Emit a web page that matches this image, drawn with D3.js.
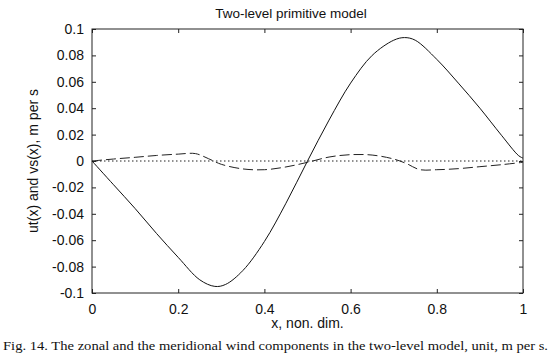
<!DOCTYPE html>
<html>
<head>
<meta charset="utf-8">
<script src="https://cdn.jsdelivr.net/npm/d3@7"></script>
<style>
    body { margin: 0; background: #fff; }
    text { font-family: "Liberation Sans", Arial, sans-serif; fill: #111; }
    .caption { font-family: "Liberation Serif", "Times New Roman", serif; }
</style>
</head>
<body>
<div id="chart"></div>
<script>

//Data
var xSolid = [0, 0.05, 0.10, 0.15, 0.20, 0.25, 0.285, 0.31, 0.35, 0.40, 0.45, 0.50, 0.55, 0.60, 0.65, 0.70, 0.725, 0.75, 0.80, 0.85, 0.90, 0.95, 0.99, 1.0];
var ut = [0, -0.018, -0.036, -0.055, -0.073, -0.090, -0.095, -0.0935, -0.083, -0.061, -0.032, 0.000, 0.031, 0.059, 0.080, 0.0915, 0.0935, 0.0915, 0.077, 0.059, 0.040, 0.0195, 0.004, 0.0022];

var xDashed = [0, 0.05, 0.10, 0.15, 0.20, 0.24, 0.27, 0.30, 0.35, 0.40, 0.45, 0.50, 0.55, 0.60, 0.65, 0.70, 0.73, 0.76, 0.80, 0.85, 0.90, 0.95, 1.0];
var vs = [0, 0.0015, 0.0028, 0.0042, 0.0052, 0.0056, 0.0018, -0.0025, -0.006, -0.0066, -0.0045, -0.001, 0.003, 0.0048, 0.0045, 0.0015, -0.002, -0.0065, -0.0066, -0.0058, -0.0043, -0.0028, -0.001];

var xTicks = [0, 0.2, 0.4, 0.6, 0.8, 1];
var yTicks = [-0.1, -0.08, -0.06, -0.04, -0.02, 0, 0.02, 0.04, 0.06, 0.08, 0.1];

var title = "Two-level primitive model";
var xLabel = "x, non. dim.";
var yLabel = "ut(x) and vs(x), m per s";
var caption = "Fig. 14. The zonal and the meridional wind components in the two-level model, unit, m per s.";

//Width and Height
var w = 554;
var h = 361;
var margin = {top: 29, right: 31, bottom: 68, left: 92};

var fmt = function(d) {
    return d === 0 ? "0" : String(+d.toFixed(2));
};

//Create scale functions
var x = d3.scaleLinear()
            .domain([0, 1])
            .range([margin.left, w - margin.right]);

var y = d3.scaleLinear()
            .domain([-0.1, 0.1])
            .range([h - margin.bottom, margin.top]);

//Create chart
var chart = d3.select("#chart")
                .append("svg")
                .attr("width", w)
                .attr("height", h);

//Axes, ticks pointing inward
chart.append("g")
    .attr("transform", "translate(" + margin.left + ",0)")
    .call(d3.axisLeft(y).tickValues(yTicks).tickFormat(fmt).tickSizeInner(-4).tickSizeOuter(0).tickPadding(8))
    .call(g => g.select(".domain").remove())
    .selectAll("text")
        .style("font-size", "14px");

chart.append("g")
    .attr("transform", "translate(" + (w - margin.right) + ",0)")
    .call(d3.axisRight(y).tickValues(yTicks).tickFormat("").tickSizeInner(-4).tickSizeOuter(0))
    .call(g => g.select(".domain").remove());

chart.append("g")
    .attr("transform", "translate(0," + (h - margin.bottom) + ")")
    .call(d3.axisBottom(x).tickValues(xTicks).tickFormat(fmt).tickSizeInner(-4).tickSizeOuter(0).tickPadding(11))
    .call(g => g.select(".domain").remove())
    .selectAll("text")
        .style("font-size", "14px");

chart.append("g")
    .attr("transform", "translate(0," + margin.top + ")")
    .call(d3.axisTop(x).tickValues(xTicks).tickFormat("").tickSizeInner(-4).tickSizeOuter(0))
    .call(g => g.select(".domain").remove());

chart.selectAll(".tick line").attr("stroke", "#222");

//Frame
chart.append("rect")
    .attr("x", x(0))
    .attr("y", y(0.1))
    .attr("width", x(1) - x(0))
    .attr("height", y(-0.1) - y(0.1))
    .attr("fill", "none")
    .attr("stroke", "#222")
    .attr("stroke-width", 1);

//Zero line (dotted)
chart.append("line")
    .attr("x1", x(0))
    .attr("x2", x(1))
    .attr("y1", y(0))
    .attr("y2", y(0))
    .attr("stroke", "#222")
    .attr("stroke-width", 1)
    .attr("stroke-dasharray", "1.5,2.5");

var line = d3.line()
    .x(d => x(d[0]))
    .y(d => y(d[1]))
    .curve(d3.curveCatmullRom.alpha(0.5));

//Dashed vs(x)
chart.append("path")
    .datum(d3.zip(xDashed, vs))
    .attr("d", line)
    .attr("fill", "none")
    .attr("stroke", "#222")
    .attr("stroke-width", 1)
    .attr("stroke-dasharray", "10,4");

//Solid ut(x)
chart.append("path")
    .datum(d3.zip(xSolid, ut))
    .attr("d", line)
    .attr("fill", "none")
    .attr("stroke", "#111")
    .attr("stroke-width", 1);

//Title and labels
chart.append("text")
    .attr("x", 291)
    .attr("y", 18)
    .attr("text-anchor", "middle")
    .style("font-size", "13.5px")
    .text(title);

chart.append("text")
    .attr("x", (x(0) + x(1)) / 2)
    .attr("y", 328)
    .attr("text-anchor", "middle")
    .style("font-size", "14px")
    .text(xLabel);

chart.append("text")
    .attr("transform", "translate(38," + y(0) + ") rotate(-90)")
    .attr("text-anchor", "middle")
    .style("font-size", "14px")
    .text(yLabel);

chart.append("text")
    .attr("class", "caption")
    .attr("x", 3)
    .attr("y", 350)
    .attr("textLength", 545)
    .attr("lengthAdjust", "spacingAndGlyphs")
    .style("font-size", "12.5px")
    .text(caption);

</script>
</body>
</html>
